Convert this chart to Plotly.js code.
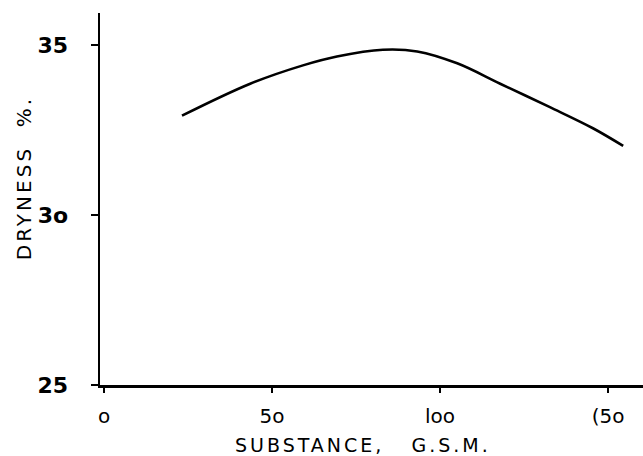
<!DOCTYPE html>
<html>
<head>
<meta charset="utf-8">
<script src="https://cdn.plot.ly/plotly-3.0.1.min.js"></script>
<style>
  html, body { margin: 0; padding: 0; background: #fff; }
  #chart { width: 643px; height: 456px; }
  .annotation-text { letter-spacing: 3px; }
</style>
</head>
<body>
<div id="chart"></div>
<script>
// Substance (g/m²) vs dryness (%)
const substance = [23.2, 43.5, 59.2, 69.3, 83.0, 93.2, 105.1, 117.9, 132.7, 145.5, 154.5];
const dryness   = [32.92, 33.86, 34.40, 34.66, 34.86, 34.81, 34.46, 33.86, 33.17, 32.55, 32.03];

const xTicks = [0, 50, 100, 150];
const xTickLabels = ['o', '5o', 'loo', '(5o'];
const yTicks = [25, 30, 35];
const yTickLabels = ['25', '3o', '35'];

const xTitle = 'SUBSTANCE,&nbsp;&nbsp;&nbsp;G.S.M.';
const yTitle = 'DRYNESS&nbsp;&nbsp;%.';

const trace = {
  x: substance,
  y: dryness,
  type: 'scatter',
  mode: 'lines',
  line: { color: '#000', width: 2.6, shape: 'spline', smoothing: 1 },
  hoverinfo: 'skip',
  showlegend: false
};

const layout = {
  width: 643,
  height: 456,
  margin: { l: 100, r: 0, t: 13, b: 71 },
  paper_bgcolor: '#fff',
  plot_bgcolor: '#fff',
  font: { family: 'DejaVu Sans, sans-serif', color: '#000' },
  xaxis: {
    range: [-1.2, 160.4],
    tickvals: xTicks,
    ticktext: xTickLabels,
    ticks: 'outside',
    ticklen: 5,
    tickwidth: 2,
    tickcolor: '#000',
    ticklabelstandoff: 6,
    tickfont: { size: 20, family: 'DejaVu Sans, sans-serif', color: '#000' },
    showline: true,
    linecolor: '#000',
    linewidth: 2.5,
    showgrid: false,
    zeroline: false,
    fixedrange: true
  },
  yaxis: {
    range: [25, 35.94],
    tickvals: yTicks,
    ticktext: yTickLabels,
    ticks: 'outside',
    ticklen: 7,
    tickwidth: 2,
    tickcolor: '#000',
    ticklabelstandoff: 18,
    tickfont: { size: 22, family: 'DejaVu Sans, sans-serif', color: '#000', weight: 'bold' },
    showline: true,
    linecolor: '#000',
    linewidth: 2.5,
    showgrid: false,
    zeroline: false,
    fixedrange: true
  },
  annotations: [
    {
      text: xTitle,
      xref: 'paper', yref: 'paper',
      x: 0.484, y: -0.161,
      xanchor: 'center', yanchor: 'middle',
      showarrow: false,
      font: { size: 19, family: 'DejaVu Sans, sans-serif', color: '#000' }
    },
    {
      text: yTitle,
      xref: 'paper', yref: 'paper',
      x: -0.14, y: 0.556,
      xanchor: 'center', yanchor: 'middle',
      textangle: -90,
      showarrow: false,
      font: { size: 20, family: 'DejaVu Sans, sans-serif', color: '#000' }
    }
  ]
};

Plotly.newPlot('chart', [trace], layout, { staticPlot: true, displayModeBar: false });
</script>
</body>
</html>
